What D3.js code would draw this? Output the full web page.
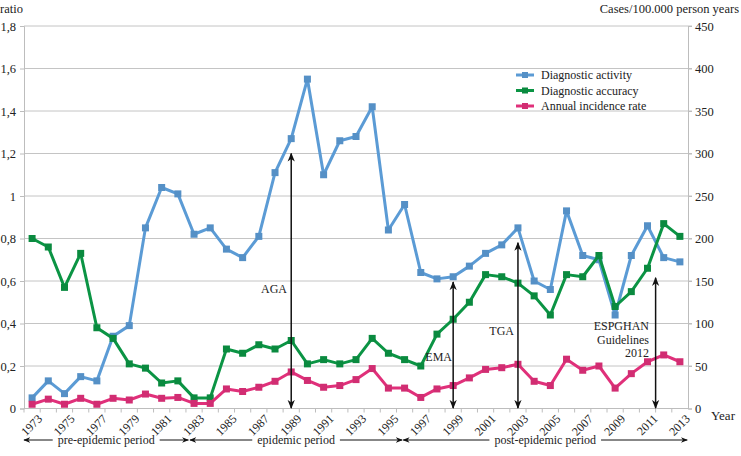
<!DOCTYPE html>
<html><head><meta charset="utf-8">
<script src="https://cdn.jsdelivr.net/npm/d3@7"></script>
</head><body style="margin:0;background:#fff">
<svg id="c" width="741" height="456"></svg>
<script>
const years = [1973,1974,1975,1976,1977,1978,1979,1980,1981,1982,1983,1984,1985,1986,1987,1988,1989,1990,1991,1992,1993,1994,1995,1996,1997,1998,1999,2000,2001,2002,2003,2004,2005,2006,2007,2008,2009,2010,2011,2012,2013];
const diagnosticActivity = [0.05,0.13,0.07,0.15,0.13,0.34,0.39,0.85,1.04,1.01,0.82,0.85,0.75,0.71,0.81,1.11,1.27,1.55,1.10,1.26,1.28,1.42,0.84,0.96,0.64,0.61,0.62,0.67,0.73,0.77,0.85,0.60,0.56,0.93,0.72,0.70,0.44,0.72,0.86,0.71,0.69];
const diagnosticAccuracy = [0.80,0.76,0.57,0.73,0.38,0.33,0.21,0.19,0.12,0.13,0.05,0.05,0.28,0.26,0.30,0.28,0.32,0.21,0.23,0.21,0.23,0.33,0.26,0.23,0.20,0.35,0.42,0.50,0.63,0.62,0.59,0.53,0.44,0.63,0.62,0.72,0.48,0.55,0.66,0.87,0.81];
const incidenceRate = [5,11,5,12,5,12,10,17,12,13,6,6,23,20,25,32,43,33,25,27,34,47,24,24,13,23,27,36,46,48,52,32,27,58,45,50,24,41,55,63,55];
const leftTicks = [0,0.2,0.4,0.6,0.8,1,1.2,1.4,1.6,1.8];
const leftTickLabels = ["0","0,2","0,4","0,6","0,8","1","1,2","1,4","1,6","1,8"];
const rightTicks = [0,50,100,150,200,250,300,350,400,450];
const xTickLabels = [1973,1975,1977,1979,1981,1983,1985,1987,1989,1991,1993,1995,1997,1999,2001,2003,2005,2007,2009,2011,2013];
const seriesNames = ["Diagnostic activity","Diagnostic accuracy","Annual incidence rate"];
const seriesColors = ["#5b9bd5","#0b9444","#e0307a"];
const annotationLabels = [["AGA"],["EMA"],["TGA"],["ESPGHAN","Guidelines","2012"]];
const annotationYears = [1989,1999,2003,2011.5];
const annotationTops = [1.2,0.595,0.78,0.615];
const periodNames = ["pre-epidemic period","epidemic period","post-epidemic period"];
const periodFrom = [1972.5,1982.75,1995.92];
const periodTo = [1982.65,1995.85,2013.45];

const FONT = '"Liberation Serif"';
const svg = d3.select("#c");
const L = 24, R = 688, T = 26, B = 408.5;
const x = d3.scaleBand().domain(years).range([L, R]);
const bw = x.bandwidth();
const xc = yr => x(yr) + bw / 2;
const xl = d3.scaleLinear().domain([1973, 2013]).range([xc(1973), xc(2013)]);
const yL = d3.scaleLinear().domain([0, 1.8]).range([B, T]);
const yR = d3.scaleLinear().domain([0, 450]).range([B, T]);

const defs = svg.append("defs");
defs.append("marker").attr("id","ah").attr("viewBox","0 0 10 10").attr("refX",9).attr("refY",5)
  .attr("markerWidth",9).attr("markerHeight",9).attr("markerUnits","userSpaceOnUse").attr("orient","auto-start-reverse")
  .append("path").attr("d","M0,1 L10,5 L0,9 L3,5 Z").attr("fill","#111");
defs.append("marker").attr("id","ah2").attr("viewBox","0 0 10 10").attr("refX",9).attr("refY",5)
  .attr("markerWidth",7).attr("markerHeight",7).attr("markerUnits","userSpaceOnUse").attr("orient","auto-start-reverse")
  .append("path").attr("d","M0,1 L10,5 L0,9 L3,5 Z").attr("fill","#111");

function txt(sel, size) { return sel.attr("font-family", FONT).attr("font-size", size).attr("fill", "#222"); }

// grid
svg.append("g").selectAll("line").data(leftTicks.slice(1)).join("line")
  .attr("x1", L).attr("x2", R + 4).attr("y1", d => yL(d)).attr("y2", d => yL(d))
  .attr("stroke", "#c4c4c4").attr("stroke-width", 1);

// left axis
const gl = svg.append("g").attr("transform", `translate(${L},0)`)
  .call(d3.axisLeft(yL).tickValues(leftTicks).tickSize(4).tickPadding(4)
    .tickFormat((d, i) => leftTickLabels[i]));
gl.attr("font-family", FONT).attr("font-size", 12.5);
gl.select(".domain").attr("stroke", "#bdbdbd");
gl.selectAll(".tick line").attr("stroke", "#bdbdbd");
txt(gl.selectAll("text"), 12.5);

// right axis
const gr = svg.append("g").attr("transform", `translate(${R},0)`)
  .call(d3.axisRight(yR).tickValues(rightTicks).tickSize(4).tickPadding(3));
gr.attr("font-family", FONT).attr("font-size", 12.5);
gr.select(".domain").attr("stroke", "#bdbdbd");
gr.selectAll(".tick line").attr("stroke", "#bdbdbd");
txt(gr.selectAll("text"), 12.5);

// bottom axis
svg.append("line").attr("x1", L).attr("x2", R).attr("y1", B).attr("y2", B).attr("stroke", "#bdbdbd");
svg.append("g").selectAll("line").data(years).join("line")
  .attr("x1", d => x(d)).attr("x2", d => x(d)).attr("y1", B).attr("y2", B + 4).attr("stroke", "#bdbdbd");
txt(svg.append("g").selectAll("text").data(xTickLabels).join("text")
  .attr("transform", d => `translate(${xc(d) + 5},${B + 5}) rotate(-45)`)
  .attr("text-anchor", "end").attr("dy", "0.7em").text(d => d), 12);

// titles
txt(svg.append("text").attr("x", 0).attr("y", 13).text("ratio"), 12.5);
txt(svg.append("text").attr("x", 739).attr("y", 13).attr("text-anchor", "end").text("Cases/100.000 person years"), 12.5);
txt(svg.append("text").attr("x", 711).attr("y", 420).text("Year"), 13);

// series
const series = [
  {vals: diagnosticActivity, scale: yL},
  {vals: diagnosticAccuracy, scale: yL},
  {vals: incidenceRate, scale: yR}
];
series.forEach((s, i) => {
  const pts = years.map((yr, j) => [xc(yr), s.scale(s.vals[j])]);
  svg.append("path").attr("d", d3.line()(pts)).attr("fill", "none")
    .attr("stroke", seriesColors[i]).attr("stroke-width", 3).attr("stroke-linejoin", "round");
  svg.append("g").selectAll("rect").data(pts).join("rect")
    .attr("x", d => d[0] - 3.5).attr("y", d => d[1] - 3.5).attr("width", 7).attr("height", 7)
    .attr("fill", d3.color(seriesColors[i]).darker(0.2));
});

// legend
const lg = svg.append("g");
seriesNames.forEach((n, i) => {
  const yy = 75 + i * 15.5;
  lg.append("line").attr("x1", 516).attr("x2", 534).attr("y1", yy).attr("y2", yy)
    .attr("stroke", seriesColors[i]).attr("stroke-width", 3);
  lg.append("rect").attr("x", 522).attr("y", yy - 3).attr("width", 6).attr("height", 6).attr("fill", d3.color(seriesColors[i]).darker(0.2));
  txt(lg.append("text").attr("x", 541).attr("y", yy + 4).text(n), 12);
});

// annotations
annotationYears.forEach((yr, i) => {
  const ax = xl(yr);
  svg.append("line").attr("x1", ax).attr("x2", ax).attr("y1", yL(annotationTops[i])).attr("y2", B - 0.5)
    .attr("stroke", "#111").attr("stroke-width", 1.5)
    .attr("marker-start", "url(#ah)").attr("marker-end", "url(#ah)");
});
const labelPos = [[287, 293], [452, 361], [514, 335], [649, 330]];
annotationLabels.forEach((lines, i) => {
  lines.forEach((t, k) => {
    txt(svg.append("text").attr("x", labelPos[i][0]).attr("y", labelPos[i][1] + k * 13.5)
      .attr("text-anchor", "end").text(t), 12);
  });
});

// periods
periodNames.forEach((n, i) => {
  const x1 = xl(periodFrom[i]), x2 = xl(periodTo[i]), cx = (x1 + x2) / 2, yy = 440;
  const t = txt(svg.append("text").attr("x", cx).attr("y", yy + 4).attr("text-anchor", "middle").text(n), 12);
  const w = t.node().getComputedTextLength();
  svg.append("line").attr("x1", cx - w / 2 - 5).attr("x2", x1).attr("y1", yy).attr("y2", yy)
    .attr("stroke", "#111").attr("stroke-width", 1).attr("marker-end", "url(#ah2)");
  svg.append("line").attr("x1", cx + w / 2 + 5).attr("x2", x2).attr("y1", yy).attr("y2", yy)
    .attr("stroke", "#111").attr("stroke-width", 1).attr("marker-end", "url(#ah2)");
});
</script>
</body></html>
